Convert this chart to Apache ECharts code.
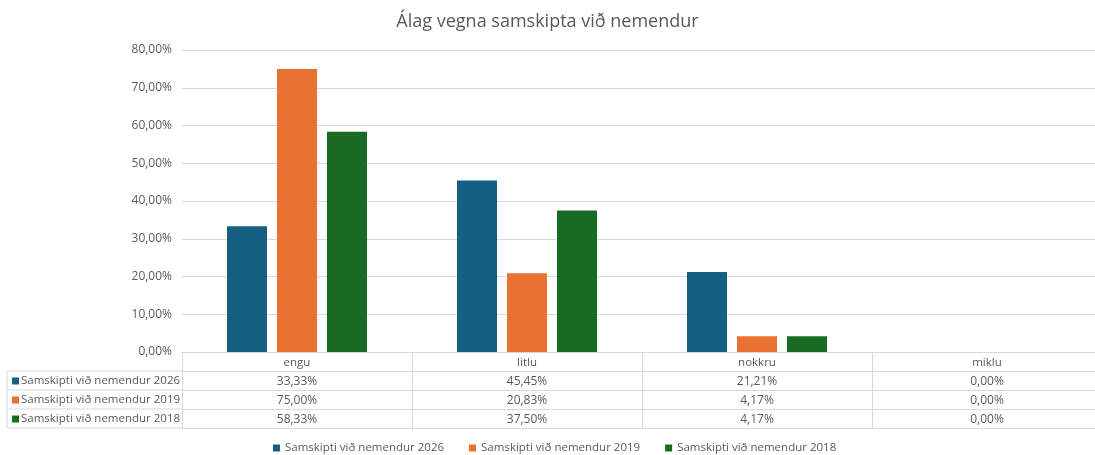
<!DOCTYPE html>
<html>
<head>
<meta charset="utf-8">
<script src="https://cdn.jsdelivr.net/npm/echarts@6/dist/echarts.min.js"></script>
<style>html,body{margin:0;padding:0;background:#fff}#c{width:1095px;height:455px}</style>
</head>
<body>
<div id="c"></div>
<script>
const title = 'Álag vegna samskipta við nemendur';
const categories = ['engu', 'litlu', 'nokkru', 'miklu'];
const seriesNames = ['Samskipti við nemendur 2026', 'Samskipti við nemendur 2019', 'Samskipti við nemendur 2018'];
const values2026 = [33.33, 45.45, 21.21, 0.00];
const values2019 = [75.00, 20.83, 4.17, 0.00];
const values2018 = [58.33, 37.50, 4.17, 0.00];
const colors = ['#156082', '#E97132', '#196B24'];

const FONT = 'Open Sans';
const TXT = '#595959';
const LINE = '#d9d9d9';
const GL = 182, GT = 50, GB = 103, GW = 920, ROW = 19;
const H = 455;
const gridBottomY = H - GB;

const fmt = v => v.toFixed(2).replace('.', ',') + '%';
const allVals = [values2026, values2019, values2018];

const xAxes = [];
xAxes.push({
  type: 'category', data: categories, position: 'bottom', offset: 0,
  axisLine: { show: true, lineStyle: { color: LINE } },
  axisTick: { show: true, length: ROW, lineStyle: { color: LINE } },
  axisLabel: { color: TXT, fontFamily: FONT, fontSize: 11.5, margin: 5 }
});
allVals.forEach((arr, i) => {
  xAxes.push({
    type: 'category', data: categories, position: 'bottom', offset: ROW * (i + 1),
    axisLine: { show: true, lineStyle: { color: LINE } },
    axisTick: { show: true, length: ROW, lineStyle: { color: LINE } },
    axisLabel: { color: TXT, fontFamily: FONT, fontSize: 12, margin: 5,
      formatter: (val, idx) => fmt(arr[idx]) }
  });
});
xAxes.push({
  type: 'category', data: categories, position: 'bottom', offset: ROW * 4,
  axisLine: { show: true, lineStyle: { color: LINE } },
  axisTick: { show: false }, axisLabel: { show: false }
});

const graphics = [];
for (let r = 1; r <= 4; r++) {
  graphics.push({ type: 'line', shape: { x1: 7, y1: gridBottomY + ROW * r, x2: GL, y2: gridBottomY + ROW * r },
    style: { stroke: LINE, lineWidth: 1 }, silent: true });
}
graphics.push({ type: 'line', shape: { x1: 7, y1: gridBottomY + ROW, x2: 7, y2: gridBottomY + ROW * 4 },
  style: { stroke: LINE, lineWidth: 1 }, silent: true });
seriesNames.forEach((n, i) => {
  const yMid = gridBottomY + ROW * (i + 1) + ROW / 2;
  graphics.push({ type: 'rect', shape: { x: 12, y: yMid - 3, width: 7, height: 7 }, style: { fill: colors[i] }, silent: true });
  graphics.push({ type: 'text', x: 21, y: yMid + 0.5, style: { text: n, fill: TXT, font: '11.5px "' + FONT + '"', verticalAlign: 'middle' }, silent: true });
});

const chart = echarts.init(document.getElementById('c'), null, { renderer: 'canvas' });
chart.setOption({
  animation: false,
  backgroundColor: '#fff',
  color: colors,
  title: { text: title, left: 'center', top: 8,
    textStyle: { color: TXT, fontFamily: FONT, fontSize: 18, fontWeight: 'normal' } },
  legend: { top: 437, left: 268, itemWidth: 7, itemHeight: 7, itemGap: 25, icon: 'rect',
    textStyle: { color: TXT, fontFamily: FONT, fontSize: 11.5 }, data: seriesNames },
  grid: { left: GL, width: GW, top: GT, bottom: GB, containLabel: false, outerBoundsMode: 'none' },
  xAxis: xAxes,
  yAxis: { type: 'value', min: 0, max: 80, interval: 10,
    axisLine: { show: false }, axisTick: { show: false },
    splitLine: { lineStyle: { color: LINE } },
    axisLabel: { color: TXT, fontFamily: FONT, fontSize: 12, margin: 10, formatter: v => fmt(v) } },
  series: allVals.map((arr, i) => ({
    name: seriesNames[i], type: 'bar', xAxisIndex: 0, data: arr,
    barWidth: 40, barGap: '25%', itemStyle: { color: colors[i] }
  })),
  graphic: graphics
});
</script>
</body>
</html>
